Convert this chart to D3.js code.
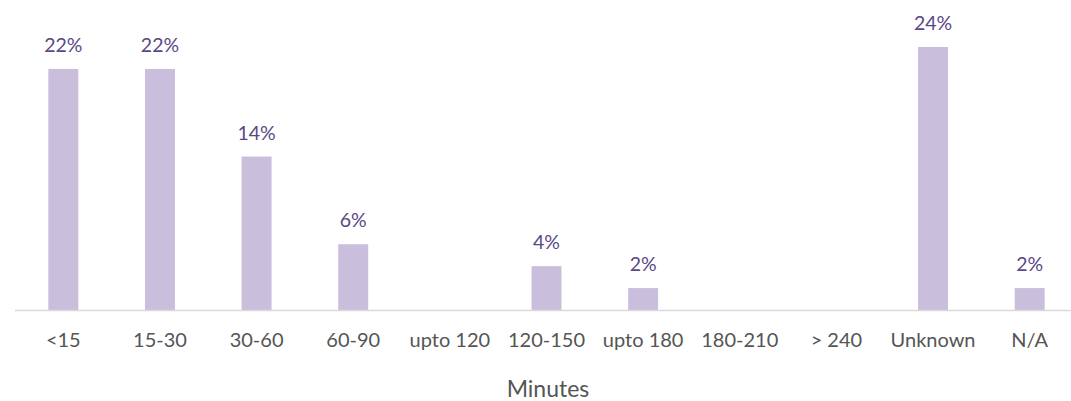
<!DOCTYPE html>
<html><head><meta charset="utf-8">
<script src="https://cdn.jsdelivr.net/npm/d3@7"></script>
<style>body{margin:0;background:#fff}svg{display:block}</style>
</head><body>
<svg id="chart" width="1071" height="401"></svg>
<script>
const categories = ["<15","15-30","30-60","60-90","upto 120","120-150","upto 180","180-210","> 240","Unknown","N/A"];
const values = [22,22,14,6,0,4,2,0,0,24,2];
const valueLabels = ["22%","22%","14%","6%","","4%","2%","","","24%","2%"];
const axisTitle = "Minutes";

const svg = d3.select("#chart");
const baseY = 310;
const x = d3.scaleBand().domain(categories).range([15, 1078]).paddingInner(0.69).paddingOuter(0.345);
const y = d3.scaleLinear().domain([0, 24]).range([baseY, 47]);
const font = "Lato, 'Open Sans', sans-serif";

svg.selectAll("rect.bar").data(categories).join("rect")
  .attr("class","bar")
  .attr("x", d => x(d))
  .attr("width", x.bandwidth())
  .attr("y", (d,i) => y(values[i]))
  .attr("height", (d,i) => baseY - y(values[i]))
  .attr("fill", "#c9bedc");

svg.append("line").attr("x1",15).attr("x2",1071).attr("y1",baseY+0.5).attr("y2",baseY+0.5)
  .attr("stroke","#d9d9d9").attr("stroke-width",1.5);

svg.selectAll("text.val").data(categories).join("text")
  .attr("class","val")
  .attr("x", d => x(d) + x.bandwidth()/2)
  .attr("y", (d,i) => y(values[i]) - 17)
  .attr("text-anchor","middle")
  .attr("font-family", font).attr("font-size", 19.5)
  .attr("fill","#5a4785")
  .text((d,i) => valueLabels[i]);

const axis = d3.axisBottom(x).tickSize(0).tickPadding(0);
const g = svg.append("g").attr("transform", `translate(0,${baseY})`).call(axis);
g.select(".domain").remove();
g.selectAll("text").attr("font-family", font).attr("font-size", 20).attr("fill","#555555")
  .attr("dy", null).attr("y", 37);

svg.append("text").attr("x", 548).attr("y", 397).attr("text-anchor","middle")
  .attr("font-family", font).attr("font-size", 23).attr("fill","#555555").text(axisTitle);
</script>
</body></html>
